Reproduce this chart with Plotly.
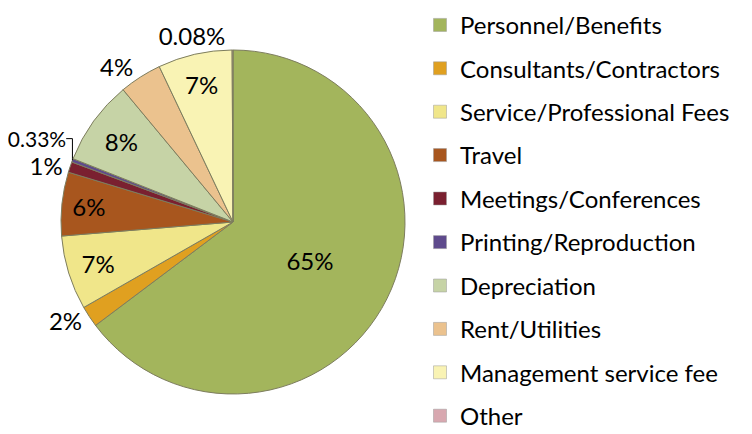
import plotly.graph_objects as go

categories = ["Personnel/Benefits", "Consultants/Contractors", "Service/Professional Fees",
              "Travel", "Meetings/Conferences", "Printing/Reproduction", "Depreciation",
              "Rent/Utilities", "Management service fee", "Other"]
values = [65, 2, 7, 6, 1, 0.33, 8, 4, 7, 0.08]
pct_labels = ["65%", "2%", "7%", "6%", "1%", "0.33%", "8%", "4%", "7%", "0.08%"]
label_pos = ["inside", "outside", "inside", "inside", "outside", "outside",
             "inside", "outside", "inside", "outside"]
label_size = [24, 24, 24, 24, 24, 21, 24, 24, 24, 24]
colors = ["#A3B55C", "#E0A020", "#F0E68A", "#A8561E", "#7A2030", "#5E4A8C",
          "#C6D3A6", "#EBC28E", "#F9F3B4", "#D8A8B0"]

FONT = "Lato"
OFF = 8                      # page body margin offset
W, H = 752 - OFF, 434 - OFF
cx, cy, r = 233 - OFF, 222 - OFF, 172

fig = go.Figure()
fig.add_trace(go.Pie(
    labels=categories, values=values, text=pct_labels, textinfo="text",
    textposition=label_pos, insidetextorientation="horizontal",
    sort=False, direction="clockwise", rotation=0,
    marker=dict(colors=colors, line=dict(color="#7D7D5E", width=1)),
    textfont=dict(family=FONT, size=label_size, color="black"),
    outsidetextfont=dict(family=FONT, size=label_size, color="black"),
    showlegend=False,
    domain=dict(x=[(cx - r) / W, (cx + r) / W],
                y=[(H - cy - r) / H, (H - cy + r) / H]),
))

for i, (cat, col) in enumerate(zip(categories, colors)):
    fig.add_trace(go.Scatter(
        x=[None], y=[None], mode="markers", name=cat,
        marker=dict(symbol="square", size=13, color=col, line=dict(color="#9A9A9A", width=0.5)),
        legendgroup=f"g{i}", showlegend=True,
        legend="legend" if i < 5 else "legend2",
    ))

leg_common = dict(xanchor="left", yanchor="middle",
                  font=dict(family=FONT, size=24, color="black"),
                  bgcolor="rgba(0,0,0,0)", tracegroupgap=9.2)
fig.update_layout(
    width=W, height=H,
    margin=dict(l=0, r=0, t=0, b=0, autoexpand=False),
    paper_bgcolor="white", plot_bgcolor="white",
    xaxis=dict(visible=False), yaxis=dict(visible=False),
    legend=dict(x=412 / W, y=1 - 103.8 / H, **leg_common),
    legend2=dict(x=412 / W, y=1 - 321 / H, **leg_common),
    font=dict(family=FONT),
)

fig.write_html("out.html")
